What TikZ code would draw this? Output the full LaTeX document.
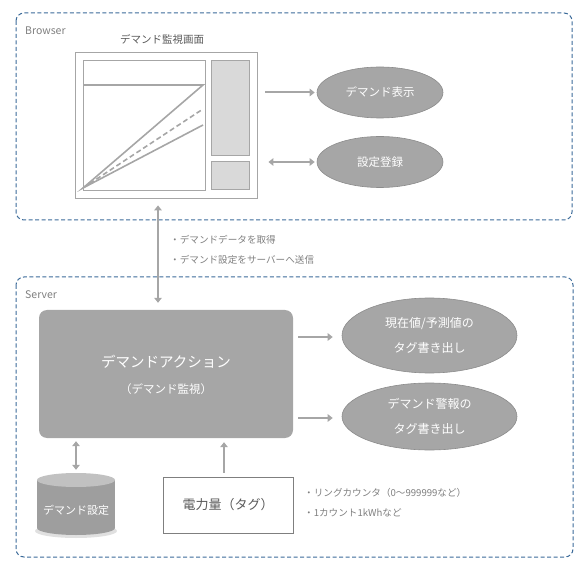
\documentclass[tikz,border=0pt]{standalone}
\usepackage{fontspec}
\setmainfont{Noto Sans CJK JP}
\usetikzlibrary{arrows.meta,shapes.geometric,calc}
\definecolor{frameblue}{HTML}{3B6A99}
\definecolor{lgray}{HTML}{A6A6A6}
\definecolor{mgray}{HTML}{8C8C8C}
\definecolor{tgray}{HTML}{7F7F7F}
\definecolor{dgray}{HTML}{595959}
\definecolor{panel}{HTML}{D9D9D9}
\tikzset{
  zone/.style={draw=frameblue, line width=1pt, dash pattern=on 4pt off 2.5pt, rounded corners=8pt},
  arr/.style={draw=lgray, line width=2pt, -{Triangle[length=5pt,width=7.5pt]}},
  darr/.style={draw=lgray, line width=2pt, {Triangle[length=5pt,width=7.5pt]}-{Triangle[length=5pt,width=7.5pt]}},
  oval/.style={ellipse, draw=mgray, fill=lgray, line width=0.6pt, text=white, font=\fontsize{11.5}{14}\selectfont, inner sep=0pt},
  note/.style={text=tgray, font=\fontsize{9.6}{12}\selectfont, anchor=west, inner sep=0pt},
  chart/.style={draw=lgray, line width=1.6pt},
}
\begin{document}
\begin{tikzpicture}[x=1pt,y=-1pt]
\useasboundingbox (0,0) rectangle (581,569);
% zones
\draw[zone] (16,13) rectangle (572,220);
\draw[zone] (16,277) rectangle (573,557);
\node[anchor=west, text=tgray, font=\fontsize{10.5}{12}\selectfont, inner sep=0pt] (blabel) at (25,31) {Browser};
\node[anchor=west, text=tgray, font=\fontsize{10.5}{12}\selectfont, inner sep=0pt] (slabel) at (25,295) {Server};
% screen
\node[text=dgray, font=\fontsize{10.5}{12}\selectfont, inner sep=0pt] (title) at (162,39) {デマンド監視画面};
\node[draw=lgray, line width=0.8pt, minimum width=182pt, minimum height=146pt, inner sep=0pt] (scr) at (166,125) {};
\draw[draw=lgray, line width=0.8pt] (83,60) rectangle (205,190);
\draw[draw=lgray, fill=panel, line width=0.8pt] (211,60) rectangle (249,155);
\draw[draw=lgray, fill=panel, line width=0.8pt] (211,161) rectangle (249,189);
\draw[chart] (83,85) -- (203,85) -- (83,188) -- (203,125);
\draw[chart, dash pattern=on 5pt off 3pt] (83,188) -- (203,109);
% ellipses browser
\node[oval, minimum width=126pt, minimum height=51pt] (e1) at (380,92.5) {デマンド表示};
\node[oval, minimum width=126pt, minimum height=51pt] (e2) at (380,162) {設定登録};
\draw[arr] ([xshift=8pt]scr.east |- e1.west) -- ([xshift=-2pt]e1.west);
\draw[darr] ([xshift=11pt]scr.east |- e2.west) -- ([xshift=-2pt]e2.west);
% server main
\node[draw=none, fill=lgray, rounded corners=8pt, minimum width=254pt, minimum height=128pt, inner sep=0pt] (main) at (166,374) {};
\node[text=white, font=\fontsize{14.5}{16}\selectfont, inner sep=0pt] (mt1) at (166,362) {デマンドアクション};
\node[text=white, font=\fontsize{11.5}{14}\selectfont, inner sep=0pt] (mt2) at (166,389) {（デマンド監視）};
% vertical link
\draw[darr, shorten >=7pt] ([xshift=-8pt,yshift=-7pt]scr.south) -- ([xshift=-8pt]main.north);
\node[note] (n1) at (170,240) {・デマンドデータを取得};
\node[note] (n2) at (170,260) {・デマンド設定をサーバーへ送信};
% server ellipses
\node[oval, minimum width=175pt, minimum height=75pt, font=\fontsize{12}{25}\selectfont, align=center] (e3) at (429.5,335.5) {現在値/予測値の\\タグ書き出し};
\node[oval, minimum width=175pt, minimum height=67pt, font=\fontsize{12}{25}\selectfont, align=center] (e4) at (429.5,416.5) {デマンド警報の\\タグ書き出し};
\coordinate (a3s) at ($(main.east |- e3.west)+(5,1.5)$);
\coordinate (a3e) at ($(e3.west)+(-9,1.5)$);
\coordinate (a4s) at ($(main.east |- e4.west)+(5,1.5)$);
\coordinate (a4e) at ($(e4.west)+(-9,1.5)$);
\draw[arr] (a3s) -- (a3e);
\draw[arr] (a4s) -- (a4e);
% cylinder
\fill[black!12] (76,531) ellipse [x radius=41, y radius=7];
\fill[lgray!95!black] (37,480) rectangle (115,528);
\fill[lgray!95!black] (76,528) ellipse [x radius=39, y radius=7];
\fill[lgray!70!white] (76,480) ellipse [x radius=39, y radius=7];
\node[inner sep=0pt, minimum width=78pt, minimum height=62pt] (db) at (76,504) {};
\node[text=white, font=\fontsize{11}{13}\selectfont, inner sep=0pt] (dbt) at (76,510) {デマンド設定};
\draw[darr] ([yshift=-3pt]main.south -| db.north) -- ([yshift=3pt]db.north);
% power box
\node[draw=tgray, line width=0.8pt, minimum width=130pt, minimum height=56pt, inner sep=0pt, text=dgray, font=\fontsize{13}{15}\selectfont] (pw) at (228,505) {電力量（タグ）};
\draw[arr] ([xshift=-4pt,yshift=4pt]pw.north) -- ([xshift=58pt,yshift=-4pt]main.south);
\node[note] (n3) at (304,493) {・リングカウンタ（0～999999など）};
\node[note] (n4) at (304,513) {・1カウント1kWhなど};
\end{tikzpicture}
\end{document}
